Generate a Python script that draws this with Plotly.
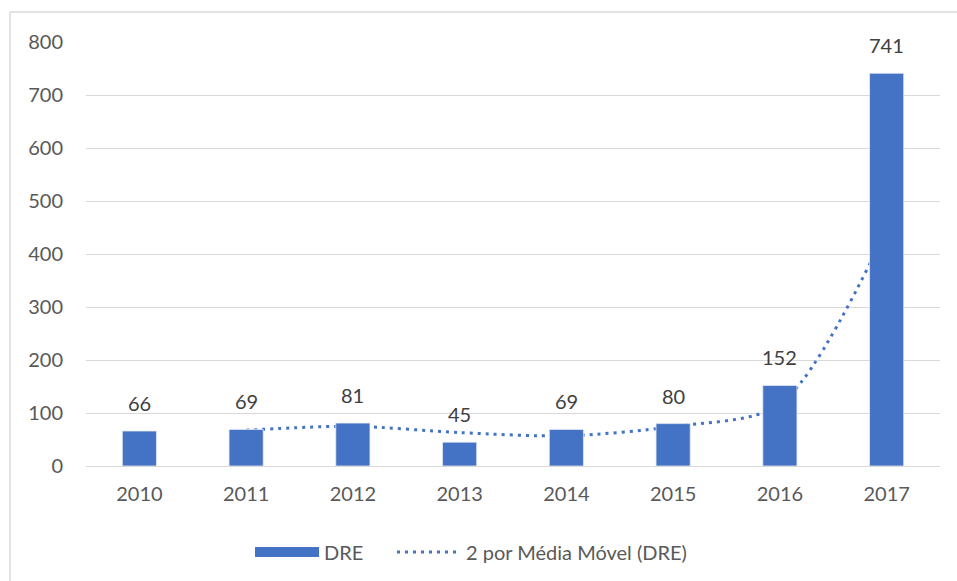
import plotly.graph_objects as go

years = ['2010', '2011', '2012', '2013', '2014', '2015', '2016', '2017']
dre = [66, 69, 81, 45, 69, 80, 152, 741]
# 2-period moving average (Excel trendline), first point undefined
ma_years = years[1:]
ma_values = [(dre[i - 1] + dre[i]) / 2 for i in range(1, len(dre))]
y_ticks = [0, 100, 200, 300, 400, 500, 600, 700, 800]

blue = '#4472C4'
grey_text = '#595959'
font_family = 'Lato, Carlito, Calibri, sans-serif'
fsize = 20

fig = go.Figure()

# moving average line on the base axes so the bars (overlay axes) sit on top
fig.add_trace(go.Scatter(
    x=ma_years, y=ma_values,
    mode='lines',
    line=dict(color=blue, width=3, dash='3px,5px', shape='spline', smoothing=0.8),
    showlegend=False,
    xaxis='x', yaxis='y'
))

fig.add_trace(go.Bar(
    x=years, y=dre,
    marker=dict(color=blue, line=dict(color='#E4E9F4', width=0.8)),
    showlegend=False,
    xaxis='x2', yaxis='y2'
))

# legend-only entries to imitate Excel's wide swatches, one legend each
fig.add_trace(go.Scatter(
    x=[None], y=[None], mode='lines', name='DRE',
    line=dict(color=blue, width=13),
    xaxis='x', yaxis='y', legend='legend'
))
fig.add_trace(go.Scatter(
    x=[None], y=[None], mode='lines', name='2 por Média Móvel (DRE)',
    line=dict(color=blue, width=3, dash='3px,5px'),
    xaxis='x', yaxis='y', legend='legend2'
))

# data labels above the bars (category index positions)
annotations = [
    dict(x=i, y=v, xref='x2', yref='y2', text=str(v), showarrow=False,
         yanchor='bottom', yshift=14,
         font=dict(size=fsize, color='#404040', family=font_family))
    for i, v in enumerate(dre)
]

axis_common = dict(
    type='category',
    categoryorder='array',
    categoryarray=years,
    range=[-0.5, len(years) - 0.5],
)

legend_common = dict(
    orientation='h',
    xanchor='left',
    y=(466 - 552) / 424, yanchor='middle',
    font=dict(size=fsize, color=grey_text),
    itemwidth=64,
    itemsizing='trace',
)

fig.update_layout(
    width=957, height=581,
    margin=dict(l=86, r=17, t=42, b=115, autoexpand=False),
    paper_bgcolor='white',
    plot_bgcolor='white',
    bargap=0.68,
    font=dict(family=font_family, size=fsize, color=grey_text),
    xaxis=dict(
        **axis_common,
        showgrid=False, zeroline=False,
        showline=True, linecolor='#D9D9D9', linewidth=1,
        ticks='', tickfont=dict(size=fsize, color=grey_text),
        ticklabelstandoff=10,
    ),
    yaxis=dict(
        range=[0, 800],
        tickvals=y_ticks,
        showgrid=True, gridcolor='#D9D9D9', gridwidth=1,
        zeroline=False, showline=False, ticks='',
        tickfont=dict(size=fsize, color=grey_text),
        ticklabelstandoff=22,
    ),
    xaxis2=dict(
        **axis_common,
        overlaying='x', visible=False,
    ),
    yaxis2=dict(
        range=[0, 800],
        overlaying='y', visible=False,
    ),
    legend=dict(x=(250 - 86) / 854, **legend_common),
    legend2=dict(x=(392 - 86) / 854, **legend_common),
    annotations=annotations,
    shapes=[dict(
        type='rect', xref='paper', yref='paper',
        x0=(10 - 86) / 854, x1=1.1,
        y0=-0.4, y1=(466 - 12) / 424,
        line=dict(color='#D9D9D9', width=1.5),
        fillcolor='rgba(0,0,0,0)',
        layer='below',
    )],
)

fig.write_html('out.html', config={'displayModeBar': False},
               post_script="document.body.style.margin='0';")
